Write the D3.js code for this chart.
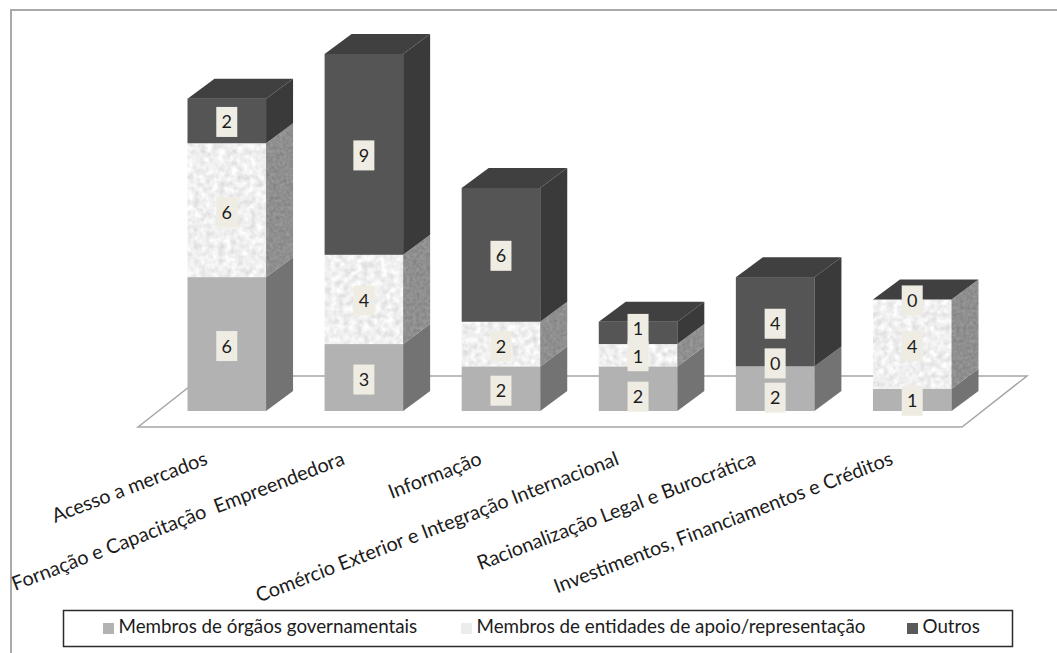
<!DOCTYPE html>
<html lang="pt">
<head>
<meta charset="utf-8">
<script src="https://cdn.jsdelivr.net/npm/d3@7"></script>
<style>
  html, body { margin: 0; padding: 0; background: #fff; }
  svg { display: block; }
  text { font-family: Lato, "Open Sans", sans-serif; fill: #1c1c1c; }
</style>
</head>
<body>
<div id="chart"></div>
<script>
const categories = [
  "Acesso a mercados",
  "Fornação e Capacitação  Empreendedora",
  "Informação",
  "Comércio Exterior e Integração Internacional",
  "Racionalização Legal e Burocrática",
  "Investimentos, Financiamentos e Créditos"
];
const seriesNames = [
  "Membros de órgãos governamentais",
  "Membros de entidades de apoio/representação",
  "Outros"
];
const governo = [6, 3, 2, 2, 2, 1];
const entidades = [6, 4, 2, 1, 0, 4];
const outros = [2, 9, 6, 1, 4, 0];

// Hand placement of the value tags, in pixels, where they would collide
const tagNudge = [
  [2, 2, 1],
  [2, 1, 1],
  [2, 2, 1],
  [8, 1, -4],
  [9, -3, 2],
  [1, 2, 1]
];

const width = 1057, height = 653;
const depth = { x: 27, y: 20 };

const svg = d3.select("#chart").append("svg")
  .attr("width", width).attr("height", height);

// Speckled surface used by the middle series
const defs = svg.append("defs");
function speckle(id, gain, offset, frequency) {
  const f = defs.append("filter").attr("id", id)
    .attr("x", 0).attr("y", 0).attr("width", 1).attr("height", 1)
    .attr("color-interpolation-filters", "sRGB");
  f.append("feTurbulence").attr("type", "fractalNoise")
    .attr("baseFrequency", frequency).attr("numOctaves", 2).attr("seed", 4);
  const row = `${gain} 0 0 0 ${offset}`;
  f.append("feColorMatrix").attr("type", "matrix")
    .attr("values", `${row} ${row} ${row} 0 0 0 0 1`).attr("result", "grain");
  f.append("feComposite").attr("in", "grain").attr("in2", "SourceAlpha").attr("operator", "in");
}
speckle("speckleFront", 0.22, 0.83, 0.16);
speckle("speckleSide", 0.16, 0.48, 0.3);

const styles = [
  { front: "#b2b2b2", side: "#737373", top: "#8a8a8a", swatch: "#b2b2b2" },
  { front: "#efefef", side: "#8f8f8f", top: "#c4c4c4", swatch: "#ececec",
    frontFilter: "url(#speckleFront)", sideFilter: "url(#speckleSide)" },
  { front: "#555555", side: "#3a3a3a", top: "#404040", swatch: "#5a5a5a" }
];

const x = d3.scaleBand().domain(categories)
  .range([187.5, 951.5]).paddingInner(0.427).paddingOuter(0);
const y = d3.scaleLinear().domain([0, 16]).range([411, 54]);

const rows = categories.map((c, i) => ({
  category: c, 0: governo[i], 1: entidades[i], 2: outros[i]
}));
const stacked = d3.stack().keys([0, 1, 2])(rows);

// Chart frame: runs off the right and bottom of the page
svg.append("path")
  .attr("d", `M11,${height}V10H${width}`)
  .attr("fill", "none").attr("stroke", "#a9a9a9").attr("stroke-width", 2);

// Floor plane
const floor = d3.path();
floor.moveTo(138, 427);
floor.lineTo(203, 376);
floor.lineTo(1027, 376);
floor.lineTo(962, 427);
floor.closePath();
svg.append("path").attr("d", floor.toString())
  .attr("fill", "#fff").attr("stroke", "#a6a6a6").attr("stroke-width", 1.5);

const line = d3.line();

const columns = svg.append("g").selectAll("g")
  .data(categories).join("g");

columns.each(function (cat, i) {
  const g = d3.select(this);
  const x0 = x(cat), x1 = x0 + x.bandwidth();
  stacked.forEach((layer, s) => {
    const [a, b] = layer[i];
    if (b === a) return;
    const style = styles[s];
    g.append("rect")
      .attr("x", x0).attr("y", y(b))
      .attr("width", x.bandwidth()).attr("height", y(a) - y(b))
      .attr("fill", style.front)
      .attr("filter", style.frontFilter || null);
    g.append("path")
      .attr("d", line([[x1, y(a)], [x1 + depth.x, y(a) - depth.y],
                       [x1 + depth.x, y(b) - depth.y], [x1, y(b)]]) + "Z")
      .attr("fill", style.side)
      .attr("filter", style.sideFilter || null);
  });
  // Roof of the column always carries the colour of the last series
  const total = stacked[2][i][1];
  g.append("path")
    .attr("d", line([[x0, y(total)], [x0 + depth.x, y(total) - depth.y],
                     [x1 + depth.x, y(total) - depth.y], [x1, y(total)]]) + "Z")
    .attr("fill", styles[2].top);
});

// Value tags
const tagW = 21, tagH = 30;
const tags = svg.append("g");
stacked.forEach((layer, s) => {
  layer.forEach((seg, i) => {
    const cx = x(categories[i]) + x.bandwidth() / 2;
    const cy = y((seg[0] + seg[1]) / 2) + tagNudge[i][s];
    const value = seg[1] - seg[0];
    tags.append("rect")
      .attr("x", cx - tagW / 2).attr("y", cy - tagH / 2)
      .attr("width", tagW).attr("height", tagH)
      .attr("fill", "#efede3");
    tags.append("text")
      .attr("x", cx).attr("y", cy + 6.5)
      .attr("text-anchor", "middle").attr("font-size", 18)
      .text(value);
  });
});

// Slanted category labels, ending below each column
svg.append("g").selectAll("text")
  .data(categories).join("text")
  .attr("text-anchor", "end")
  .attr("font-size", 19.8)
  .style("white-space", "pre")
  .attr("transform", d => `translate(${x(d) + x.bandwidth() / 2 - 18},464) rotate(-21)`)
  .text(d => d);

// Legend
const legend = svg.append("g");
legend.append("rect")
  .attr("x", 63.5).attr("y", 610.5).attr("width", 949).attr("height", 36)
  .attr("fill", "#fff").attr("stroke", "#2b2b2b").attr("stroke-width", 1.5);
const legendX = [103, 461, 907];
seriesNames.forEach((name, s) => {
  legend.append("rect")
    .attr("x", legendX[s]).attr("y", 623).attr("width", 11).attr("height", 11)
    .attr("fill", styles[s].swatch);
  legend.append("text")
    .attr("x", legendX[s] + 15.5).attr("y", 632.5)
    .attr("font-size", 18.8)
    .text(name);
});
</script>
</body>
</html>
